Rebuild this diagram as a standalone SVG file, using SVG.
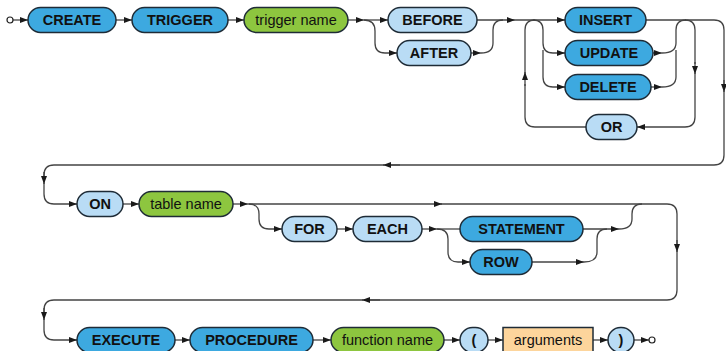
<svg xmlns="http://www.w3.org/2000/svg" width="726" height="351" viewBox="0 0 726 351">
  <defs>
    <marker id="arr" markerUnits="userSpaceOnUse" markerWidth="9" markerHeight="7" refX="8" refY="3.5" orient="auto">
      <path d="M0,0.5 L8,3.5 L0,6.5 Z" fill="#1a1a1a"/>
    </marker>
  </defs>
  <style>
    .kw rect { fill: #3da9e0; stroke: #1e2b36; stroke-width: 1.5; }
    .op rect { fill: #b9dcf5; stroke: #1e2b36; stroke-width: 1.5; }
    .nm rect { fill: #8dc63f; stroke: #1e2b36; stroke-width: 1.5; }
    .ar rect { fill: #fdd59c; stroke: #1e2b36; stroke-width: 1.5; }
    text { font-family: "Liberation Sans", Arial, sans-serif; font-size: 14.5px; fill: #111; text-anchor: middle; }
    .kw text, .op text { font-weight: bold; }
    #connectors path { fill: none; stroke: #444; stroke-width: 1.3; }
    #connectors path.a { marker-end: url(#arr); }
    .term { fill: #fff; stroke: #222; stroke-width: 1.2; }
  </style>

  <g id="connectors">
    <!-- row 1 -->
    <path class="a" d="M13,20 L28,20"/>
    <path class="a" d="M116,20 L132,20"/>
    <path class="a" d="M228,20 L244,20"/>
    <path class="a" d="M348,20 L364,20"/>
    <path class="a" d="M364,20 L388,20"/>
    <path class="a" d="M364,20 Q375,20 375,31 L375,43 Q375,53 385,53 L397,53"/>
    <path class="a" d="M477,20 L515,20"/>
    <path class="a" d="M471,53 L481,53"/>
    <path d="M481,53 Q493,53 493,43 L493,30 Q493,20 503,20"/>
    <path class="a" d="M515,20 L565,20"/>
    <path class="a" d="M533,20 Q543,20 543,30 L543,43 Q543,53 553,53 L565,53"/>
    <path class="a" d="M543,50 L543,77 Q543,87 553,87 L565,87"/>
    <path d="M646,20 L714,20 Q724,20 724,30 L724,85"/>
    <path class="a" d="M724,80 L724,92"/>
    <path d="M724,90 L724,155 Q724,165 714,165 L386,165"/>
    <path class="a" d="M400,165 L383,165"/>
    <path d="M385,165 L54,165 Q44,165 44,175 L44,178"/>
    <path class="a" d="M44,172 L44,184"/>
    <path class="a" d="M44,182 L44,194 Q44,204 54,204 L77,204"/>
    <path class="a" d="M653,53 L662,53"/>
    <path d="M662,53 Q676,53 676,43 L676,30 Q676,20 686,20"/>
    <path class="a" d="M651,87 L662,87"/>
    <path d="M662,87 Q676,87 676,77 L676,50"/>
    <path d="M685,20 Q695,20 695,30 L695,64"/>
    <path class="a" d="M695,62 L695,74"/>
    <path class="a" d="M695,72 L695,117 Q695,127 685,127 L637,127"/>
    <path d="M586,127 L535,127 Q525,127 525,117 L525,84"/>
    <path class="a" d="M525,86 L525,72"/>
    <path d="M525,74 L525,30 Q525,20 535,20"/>

    <!-- row 2 -->
    <path class="a" d="M123,204 L139,204"/>
    <path class="a" d="M233,204 L248,204"/>
    <path class="a" d="M248,204 L442,204"/>
    <path d="M440,204 L667,204 Q677,204 677,214 L677,244"/>
    <path class="a" d="M677,240 L677,252"/>
    <path d="M677,250 L677,290 Q677,300 667,300 L364,300"/>
    <path class="a" d="M380,300 L362,300"/>
    <path d="M364,300 L54,300 Q44,300 44,310 L44,312"/>
    <path class="a" d="M44,308 L44,320"/>
    <path class="a" d="M44,318 L44,330 Q44,340 54,340 L77,340"/>
    <path class="a" d="M249,204 Q259,204 259,214 L259,219 Q259,229 269,229 L282,229"/>
    <path class="a" d="M337,229 L353,229"/>
    <path class="a" d="M422,229 L437,229"/>
    <path d="M437,229 L460,229"/>
    <path class="a" d="M437,229 Q448,229 448,239 L448,252 Q448,262 458,262 L470,262"/>
    <path class="a" d="M583,229 L619,229"/>
    <path d="M619,229 Q632,229 632,219 L632,214 Q632,204 642,204"/>
    <path class="a" d="M532,262 L584,262"/>
    <path d="M584,262 Q597,262 597,252 L597,239 Q597,229 607,229"/>

    <!-- row 3 -->
    <path class="a" d="M175,340 L190,340"/>
    <path class="a" d="M313,340 L331,340"/>
    <path class="a" d="M444,340 L460,340"/>
    <path class="a" d="M488,340 L503,340"/>
    <path class="a" d="M593,340 L608,340"/>
    <path class="a" d="M634,340 L649,340"/>
  </g>

  <circle class="term" cx="10" cy="20" r="3"/>
  <circle class="term" cx="652" cy="340" r="3"/>

  <g id="create" class="kw"><rect x="28" y="7.5" width="88" height="25" rx="12.5"/><text x="72" y="25">CREATE</text></g>
  <g id="trigger" class="kw"><rect x="132" y="7.5" width="96" height="25" rx="12.5"/><text x="180" y="25">TRIGGER</text></g>
  <g id="trigger-name" class="nm"><rect x="244" y="7.5" width="104" height="25" rx="12.5"/><text x="296" y="25">trigger name</text></g>
  <g id="before" class="op"><rect x="388" y="7.5" width="89" height="25" rx="12.5"/><text x="432.5" y="25">BEFORE</text></g>
  <g id="after" class="op"><rect x="397" y="40.5" width="74" height="25" rx="12.5"/><text x="434" y="58">AFTER</text></g>
  <g id="insert" class="kw"><rect x="565" y="7.5" width="81" height="25" rx="12.5"/><text x="605.5" y="25">INSERT</text></g>
  <g id="update" class="kw"><rect x="565" y="40.5" width="88" height="25" rx="12.5"/><text x="609" y="58">UPDATE</text></g>
  <g id="delete" class="kw"><rect x="565" y="74.5" width="86" height="25" rx="12.5"/><text x="608" y="92">DELETE</text></g>
  <g id="or" class="op"><rect x="586" y="114.5" width="51" height="25" rx="12.5"/><text x="611.5" y="132">OR</text></g>

  <g id="on" class="op"><rect x="77" y="191.5" width="46" height="25" rx="12.5"/><text x="100" y="209">ON</text></g>
  <g id="table-name" class="nm"><rect x="139" y="191.5" width="94" height="25" rx="12.5"/><text x="186" y="209">table name</text></g>
  <g id="for" class="op"><rect x="282" y="216.5" width="55" height="25" rx="12.5"/><text x="309.5" y="234">FOR</text></g>
  <g id="each" class="op"><rect x="353" y="216.5" width="69" height="25" rx="12.5"/><text x="387.5" y="234">EACH</text></g>
  <g id="statement" class="kw"><rect x="460" y="216.5" width="123" height="25" rx="12.5"/><text x="521.5" y="234">STATEMENT</text></g>
  <g id="row" class="kw"><rect x="470" y="249.5" width="62" height="25" rx="12.5"/><text x="501" y="267">ROW</text></g>

  <g id="execute" class="kw"><rect x="77" y="327.5" width="98" height="25" rx="12.5"/><text x="126" y="345">EXECUTE</text></g>
  <g id="procedure" class="kw"><rect x="190" y="327.5" width="123" height="25" rx="12.5"/><text x="251.5" y="345">PROCEDURE</text></g>
  <g id="function-name" class="nm"><rect x="331" y="327.5" width="113" height="25" rx="12.5"/><text x="387.5" y="345">function name</text></g>
  <g id="lparen" class="op"><rect x="460" y="327.5" width="28" height="25" rx="12.5"/><text x="474" y="345">(</text></g>
  <g id="arguments" class="ar"><rect x="503" y="327.5" width="90" height="25"/><text x="548" y="345">arguments</text></g>
  <g id="rparen" class="op"><rect x="608" y="327.5" width="26" height="25" rx="12.5"/><text x="621" y="345">)</text></g>
</svg>
